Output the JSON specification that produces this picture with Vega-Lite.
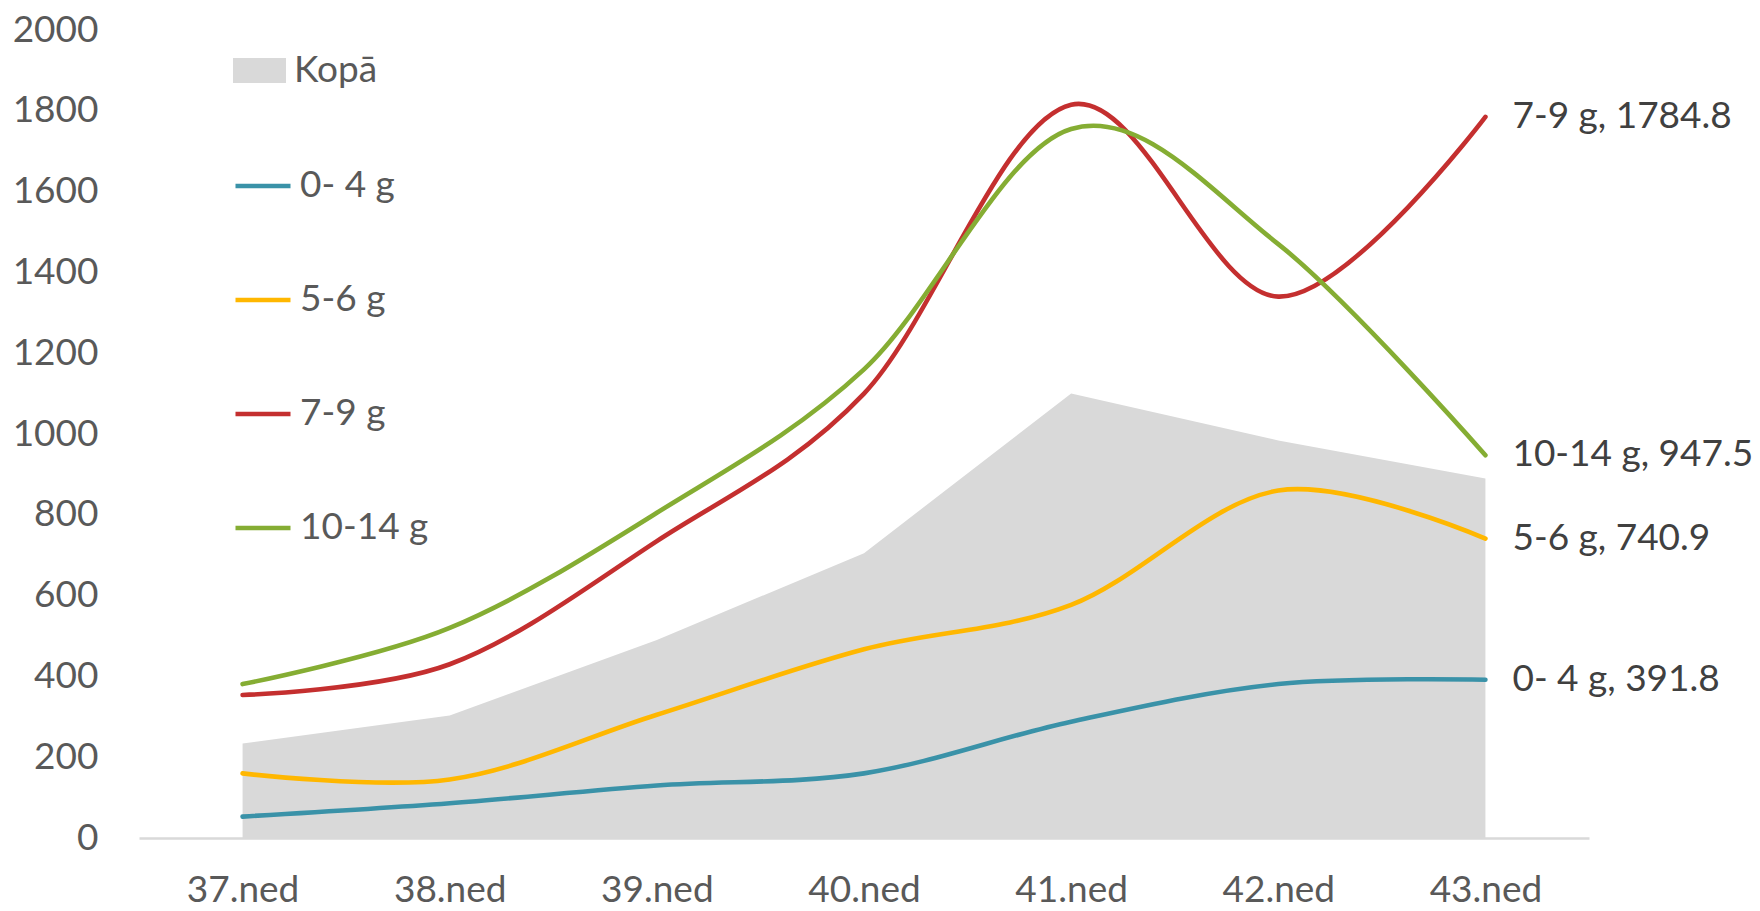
{
  "$schema": "https://vega.github.io/schema/vega-lite/v6.json",
  "width": 1450,
  "height": 808,
  "autosize": {"type": "none"},
  "padding": {"left": 139, "top": 30, "right": 171, "bottom": 73},
  "background": "white",
  "config": {
    "view": {"stroke": null},
    "font": "Lato",
    "axis": {"grid": false, "ticks": false, "labelFont": "Lato", "labelFontSize": 37, "labelColor": "#595959", "title": null},
    "legend": {"labelFont": "Lato", "labelFontSize": 37, "labelColor": "#595959", "title": null, "padding": 0}
  },
  "data": {
    "values": [
      {"week": "37.ned", "series": "Kopā", "value": 234},
      {"week": "38.ned", "series": "Kopā", "value": 303},
      {"week": "39.ned", "series": "Kopā", "value": 490},
      {"week": "40.ned", "series": "Kopā", "value": 705},
      {"week": "41.ned", "series": "Kopā", "value": 1100},
      {"week": "42.ned", "series": "Kopā", "value": 984},
      {"week": "43.ned", "series": "Kopā", "value": 890},
      {"week": "37.ned", "series": "0- 4 g", "value": 53},
      {"week": "38.ned", "series": "0- 4 g", "value": 86},
      {"week": "39.ned", "series": "0- 4 g", "value": 130},
      {"week": "40.ned", "series": "0- 4 g", "value": 160},
      {"week": "41.ned", "series": "0- 4 g", "value": 288},
      {"week": "42.ned", "series": "0- 4 g", "value": 381},
      {"week": "43.ned", "series": "0- 4 g", "value": 391.8},
      {"week": "37.ned", "series": "5-6 g", "value": 160},
      {"week": "38.ned", "series": "5-6 g", "value": 145},
      {"week": "39.ned", "series": "5-6 g", "value": 305},
      {"week": "40.ned", "series": "5-6 g", "value": 467},
      {"week": "41.ned", "series": "5-6 g", "value": 577},
      {"week": "42.ned", "series": "5-6 g", "value": 860},
      {"week": "43.ned", "series": "5-6 g", "value": 740.9},
      {"week": "37.ned", "series": "7-9 g", "value": 354},
      {"week": "38.ned", "series": "7-9 g", "value": 430},
      {"week": "39.ned", "series": "7-9 g", "value": 735},
      {"week": "40.ned", "series": "7-9 g", "value": 1100},
      {"week": "41.ned", "series": "7-9 g", "value": 1815},
      {"week": "42.ned", "series": "7-9 g", "value": 1340},
      {"week": "43.ned", "series": "7-9 g", "value": 1784.8},
      {"week": "37.ned", "series": "10-14 g", "value": 381},
      {"week": "38.ned", "series": "10-14 g", "value": 520},
      {"week": "39.ned", "series": "10-14 g", "value": 805},
      {"week": "40.ned", "series": "10-14 g", "value": 1160},
      {"week": "41.ned", "series": "10-14 g", "value": 1755},
      {"week": "42.ned", "series": "10-14 g", "value": 1470},
      {"week": "43.ned", "series": "10-14 g", "value": 947.5}
    ]
  },
  "encoding": {
    "x": {
      "field": "week", "type": "ordinal",
      "scale": {"type": "point", "padding": 0.5},
      "axis": {"domainColor": "#D9D9D9", "domainWidth": 2.5, "labelPadding": 34, "labelAngle": 0}
    },
    "y": {
      "field": "value", "type": "quantitative",
      "scale": {"domain": [0, 2000], "nice": false},
      "axis": {"domain": false, "format": "d", "values": [0, 200, 400, 600, 800, 1000, 1200, 1400, 1600, 1800, 2000], "labelPadding": 41}
    }
  },
  "layer": [
    {
      "transform": [{"filter": "datum.series === 'Kopā'"}],
      "mark": {"type": "area", "interpolate": "linear"},
      "encoding": {
        "fill": {
          "field": "series", "type": "nominal",
          "scale": {"domain": ["Kopā"], "range": ["#D9D9D9"]},
          "legend": {
            "orient": "none", "legendX": 94, "legendY": 14,
            "symbolType": "M-1,-0.47H1V0.47H-1Z", "symbolSize": 2809,
            "symbolStrokeWidth": 0, "symbolOpacity": 1, "labelOffset": 8
          }
        }
      }
    },
    {
      "transform": [{"filter": "datum.series !== 'Kopā'"}],
      "mark": {"type": "line", "interpolate": "cardinal", "tension": 0, "strokeWidth": 4.6, "strokeCap": "round"},
      "encoding": {
        "stroke": {
          "field": "series", "type": "nominal",
          "scale": {"domain": ["0- 4 g", "5-6 g", "7-9 g", "10-14 g"], "range": ["#3A92A8", "#FFB700", "#C42F2F", "#85AD33"]},
          "legend": {
            "orient": "none", "legendX": 94, "legendY": 126,
            "symbolType": "stroke", "symbolSize": 3025, "symbolStrokeWidth": 4.6,
            "rowPadding": 66, "labelOffset": 7
          }
        },
        "order": {"field": "week"}
      }
    },
    {
      "transform": [
        {"filter": "datum.series !== 'Kopā' && datum.week === '43.ned'"},
        {"calculate": "datum.series + ', ' + datum.value", "as": "label"}
      ],
      "mark": {"type": "text", "align": "left", "baseline": "middle", "dx": 27, "fontSize": 37, "color": "#404040", "font": "Lato"},
      "encoding": {"text": {"field": "label"}}
    }
  ]
}
